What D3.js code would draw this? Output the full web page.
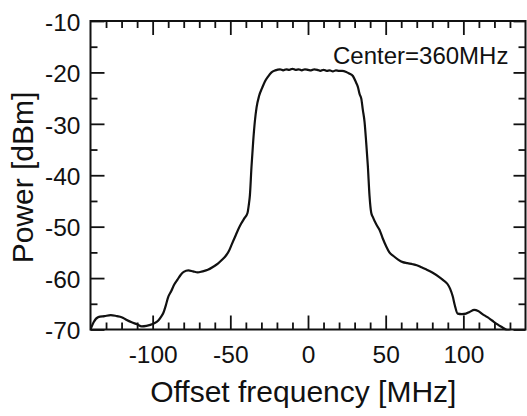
<!DOCTYPE html>
<html>
<head>
<meta charset="utf-8">
<script src="https://cdn.jsdelivr.net/npm/d3@7"></script>
<style>
  body { margin: 0; background: #fff; }
  text { font-family: "Liberation Sans", Arial, Helvetica, sans-serif; fill: #111; }
</style>
</head>
<body>
<div id="chart"></div>
<script>
// spectrum trace: offset frequency [MHz] and power [dBm]
const offsetMHz = [
  -140, -138, -135, -131, -127, -123, -120, -117, -113.5, -110, -107, -104, -101.5, -99,
  -96.5, -94.5, -93, -91.5, -90, -88, -86, -84, -82, -80, -77, -74, -71, -68, -64.5, -61,
  -58, -55.5, -53, -51, -49, -47, -45, -43, -41, -39, -38, -37.4, -36.4, -35.3, -34.2,
  -33.1, -31.5, -29.5, -27.8, -25.7, -23.5, -21, -18, -16, -14, -12, -10, -8, -6, -4, -2,
  0, 2, 4, 6, 8, 10, 12, 14, 16, 18, 20, 22, 24.6, 26.5, 28.9, 31, 32.1, 33.2, 34.3, 35.3,
  36.4, 37.5, 38.5, 39.6, 40.7, 41.7, 44, 46, 48, 50.3, 52.4, 55, 58, 61, 64, 67.4, 70, 73,
  76, 80, 84.5, 87, 89.9, 91.5, 93.1, 94.5, 96.3, 99, 101.7, 104, 107, 109.5, 112.3, 115.5,
  118.7, 122, 125.2, 128.4, 132, 140
];
const powerDBm = [
  -70, -68.6, -67.6, -67.4, -67.2, -67.4, -67.6, -68.1, -68.6, -69.0, -69.4, -69.3, -69.1, -68.8,
  -68.3, -67.5, -66.7, -65.3, -63.7, -62.5, -61.2, -60.3, -59.4, -58.8, -58.5, -58.7, -58.9, -58.7, -58.4, -57.8,
  -57.2, -56.5, -55.7, -54.8, -53.4, -52, -50.6, -49.4, -48.4, -47.4, -45.5, -43.9, -38.5, -33.5, -29.5,
  -26.8, -24.6, -23, -21.8, -20.8, -20.0, -19.6, -19.4, -19.6, -19.4, -19.5, -19.3, -19.5, -19.4, -19.6, -19.4,
  -19.5, -19.6, -19.4, -19.5, -19.7, -19.5, -19.7, -19.6, -19.8, -19.6, -19.7, -19.7, -19.9, -20.2, -20.7, -22, -22.8, -24.2, -25.1, -27.3,
  -29.6, -33.8, -38.1, -44, -47.3, -48.1, -49.6, -50.6, -52.2, -53.8, -55.0, -55.7, -56.4, -56.9, -57.1, -57.3, -57.5, -57.9,
  -58.3, -58.9, -59.8, -60.4, -61.2, -62.1, -63.5, -65.3, -66.9, -67.0, -66.9, -66.6, -66.2, -66.4, -67.0, -67.6,
  -68.3, -69.0, -69.6, -70.2, -70.6, -70.8
];

const xMajorTicks = [-100, -50, 0, 50, 100];
const xMinorTicks = [-130, -120, -110, -90, -80, -70, -60, -40, -30, -20, -10, 10, 20, 30, 40, 60, 70, 80, 90, 110, 120, 130];
const yMajorTicks = [-70, -60, -50, -40, -30, -20, -10];
const yMinorTicks = [-65, -55, -45, -35, -25, -15];

const xTitle = "Offset frequency [MHz]";
const yTitle = "Power [dBm]";
const note = "Center=360MHz";

class SpectrumChart {
  constructor(_config, _x, _y) {
    this.config = {
      parentElement: _config.parentElement,
      containerWidth: _config.containerWidth || 527,
      containerHeight: _config.containerHeight || 416,
      margin: _config.margin || {top: 21, right: 1.5, bottom: 86.5, left: 90.5}
    };
    this.data = _x.map((f, i) => ({f: f, p: _y[i]}));
    this.initVis();
  }

  initVis() {
    let vis = this;
    const m = vis.config.margin;
    vis.width = vis.config.containerWidth - m.left - m.right;
    vis.height = vis.config.containerHeight - m.top - m.bottom;

    vis.svg = d3.select(vis.config.parentElement)
      .append('svg')
      .attr('width', vis.config.containerWidth)
      .attr('height', vis.config.containerHeight);

    vis.chart = vis.svg.append('g')
      .attr('transform', `translate(${m.left},${m.top})`);

    vis.x = d3.scaleLinear().domain([-140, 140]).range([0, vis.width]);
    vis.y = d3.scaleLinear().domain([-70, -10]).range([vis.height, 0]);

    vis.chart.append('defs').append('clipPath').attr('id', 'plotclip')
      .append('rect').attr('width', vis.width).attr('height', vis.height + 1);

    // ticks all point inward, majors longer; plain hyphen minus in labels
    const tickAxis = (axis, scale, ticks, len, labels) => {
      const a = axis(scale).tickValues(ticks).tickSizeInner(-len).tickSizeOuter(0);
      a.tickFormat(labels ? (d => String(d)) : '');
      return a;
    };

    const bottom = vis.chart.append('g').attr('transform', `translate(0,${vis.height})`);
    bottom.append('g').call(tickAxis(d3.axisBottom, vis.x, xMinorTicks, 7, false));
    bottom.append('g').call(tickAxis(d3.axisBottom, vis.x, xMajorTicks, 14, true).tickPadding(16));

    const top = vis.chart.append('g');
    top.append('g').call(tickAxis(d3.axisTop, vis.x, xMinorTicks, 7, false));
    top.append('g').call(tickAxis(d3.axisTop, vis.x, xMajorTicks, 14, false));

    const left = vis.chart.append('g');
    left.append('g').call(tickAxis(d3.axisLeft, vis.y, yMinorTicks, 7, false));
    left.append('g').call(tickAxis(d3.axisLeft, vis.y, yMajorTicks, 14, true).tickPadding(10));

    const right = vis.chart.append('g').attr('transform', `translate(${vis.width},0)`);
    right.append('g').call(tickAxis(d3.axisRight, vis.y, yMinorTicks, 7, false));
    right.append('g').call(tickAxis(d3.axisRight, vis.y, yMajorTicks, 12, false));

    vis.chart.selectAll('.domain').remove();
    vis.chart.selectAll('.tick line').attr('stroke', '#111').attr('stroke-width', 1.8);
    vis.chart.selectAll('.tick text')
      .attr('font-size', 24.5)
      .attr('fill', '#111')
      .style('font-family', '"Liberation Sans", Arial, sans-serif');
    left.selectAll('.tick text').attr('dy', '0.38em');

    vis.chart.append('rect')
      .attr('width', vis.width)
      .attr('height', vis.height)
      .attr('fill', 'none')
      .attr('stroke', '#111')
      .attr('stroke-width', 2);

    vis.svg.append('text')
      .attr('x', m.left + vis.x(-3))
      .attr('y', 402)
      .attr('text-anchor', 'middle')
      .attr('font-size', 30)
      .text(xTitle);

    vis.svg.append('text')
      .attr('transform', `translate(33,${177.5}) rotate(-90)`)
      .attr('text-anchor', 'middle')
      .attr('font-size', 30)
      .text(yTitle);

    vis.chart.append('text')
      .attr('x', vis.x(129))
      .attr('y', 64 - m.top)
      .attr('text-anchor', 'end')
      .attr('font-size', 24)
      .text(note);

    vis.renderVis();
  }

  renderVis() {
    let vis = this;
    const line = d3.line()
      .x(d => vis.x(d.f))
      .y(d => vis.y(d.p))
      .curve(d3.curveMonotoneX);

    vis.chart.append('path')
      .datum(vis.data)
      .attr('clip-path', 'url(#plotclip)')
      .attr('fill', 'none')
      .attr('stroke', '#111')
      .attr('stroke-width', 2.2)
      .attr('stroke-linejoin', 'round')
      .attr('d', line);
  }
}

const chart = new SpectrumChart({parentElement: '#chart'}, offsetMHz, powerDBm);
</script>
</body>
</html>
